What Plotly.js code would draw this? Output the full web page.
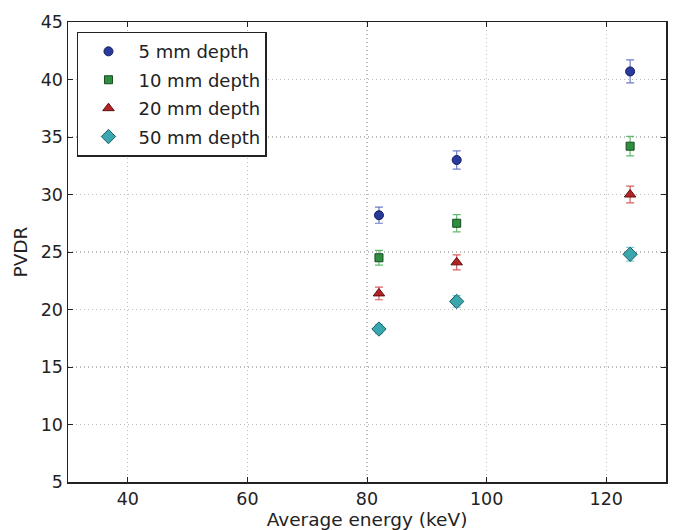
<!DOCTYPE html>
<html>
<head>
<meta charset="utf-8">
<script src="https://cdn.plot.ly/plotly-3.0.1.min.js"></script>
<style>html,body{margin:0;padding:0;background:#fff;}#chart{width:675px;height:530px;}</style>
</head>
<body>
<div id="chart"></div>
<script>
const energy = [82, 95, 124];
const seriesNames = ["5 mm depth", "10 mm depth", "20 mm depth", "50 mm depth"];
const pvdr5 = [28.2, 33.0, 40.7];
const err5 = [0.7, 0.8, 1.0];
const pvdr10 = [24.5, 27.5, 34.2];
const err10 = [0.65, 0.75, 0.85];
const pvdr20 = [21.4, 24.1, 30.0];
const err20 = [0.55, 0.65, 0.72];
const pvdr50 = [18.3, 20.7, 24.8];
const err50 = [0.4, 0.5, 0.6];
const xTicks = [40, 60, 80, 100, 120];
const yTicks = [5, 10, 15, 20, 25, 30, 35, 40, 45];

const styles = [
  {symbol: "circle", size: 9, fill: "#2a3a9c", line: "#151d5a", err: "#6f7cc8"},
  {symbol: "square", size: 8, fill: "#2f8f3f", line: "#174a1f", err: "#62bb6e"},
  {symbol: "triangle-up", size: 10, fill: "#b22424", line: "#5e1010", err: "#d86060"},
  {symbol: "diamond", size: 11, fill: "#3aa6ae", line: "#1b5a60", err: "#7acfd6"}
];
const ys = [pvdr5, pvdr10, pvdr20, pvdr50];
const es = [err5, err10, err20, err50];

const traces = seriesNames.map((name, i) => ({
  type: "scatter",
  mode: "markers",
  name: name,
  legendgroup: "g" + i,
  x: energy,
  y: ys[i],
  error_y: {type: "data", array: es[i], visible: true, color: styles[i].err, thickness: 1.2, width: 4},
  marker: {symbol: styles[i].symbol, size: styles[i].size, color: styles[i].fill,
           line: {color: styles[i].line, width: 1}}
}));

const tickFont = {family: "DejaVu Sans, sans-serif", size: 17.5, color: "#222"};
const titleFont = {family: "DejaVu Sans, sans-serif", size: 18.5, color: "#222"};
const layout = {
  width: 675, height: 530,
  margin: {l: 68, r: 9, t: 22, b: 48},
  paper_bgcolor: "#fff", plot_bgcolor: "#fff",
  font: tickFont,
  showlegend: true,
  legend: {
    x: 0.015, y: 0.979, xanchor: "left", yanchor: "top",
    bordercolor: "#222", borderwidth: 1.5, bgcolor: "#fff",
    font: {family: "DejaVu Sans, sans-serif", size: 18, color: "#222"},
    traceorder: "grouped", tracegroupgap: 2, itemwidth: 50
  },
  xaxis: {
    range: [30, 130], tickvals: xTicks, ticks: "inside", ticklen: 5, tickcolor: "#222",
    showline: true, linecolor: "#222", linewidth: 1.5, mirror: "ticks",
    showgrid: true, gridcolor: "#bbb", griddash: "1px,3px", gridwidth: 1.2, zeroline: false,
    tickfont: tickFont,
    title: {text: "Average energy (keV)", font: titleFont, standoff: 5}
  },
  yaxis: {
    range: [5, 45], tickvals: yTicks, ticks: "inside", ticklen: 5, tickcolor: "#222",
    showline: true, linecolor: "#222", linewidth: 1.5, mirror: "ticks",
    showgrid: true, gridcolor: "#bbb", griddash: "1px,3px", gridwidth: 1.2, zeroline: false,
    tickfont: tickFont,
    title: {text: "PVDR", font: titleFont, standoff: 8}
  }
};
Plotly.newPlot("chart", traces, layout, {displayModeBar: false, staticPlot: true});
</script>
</body>
</html>
